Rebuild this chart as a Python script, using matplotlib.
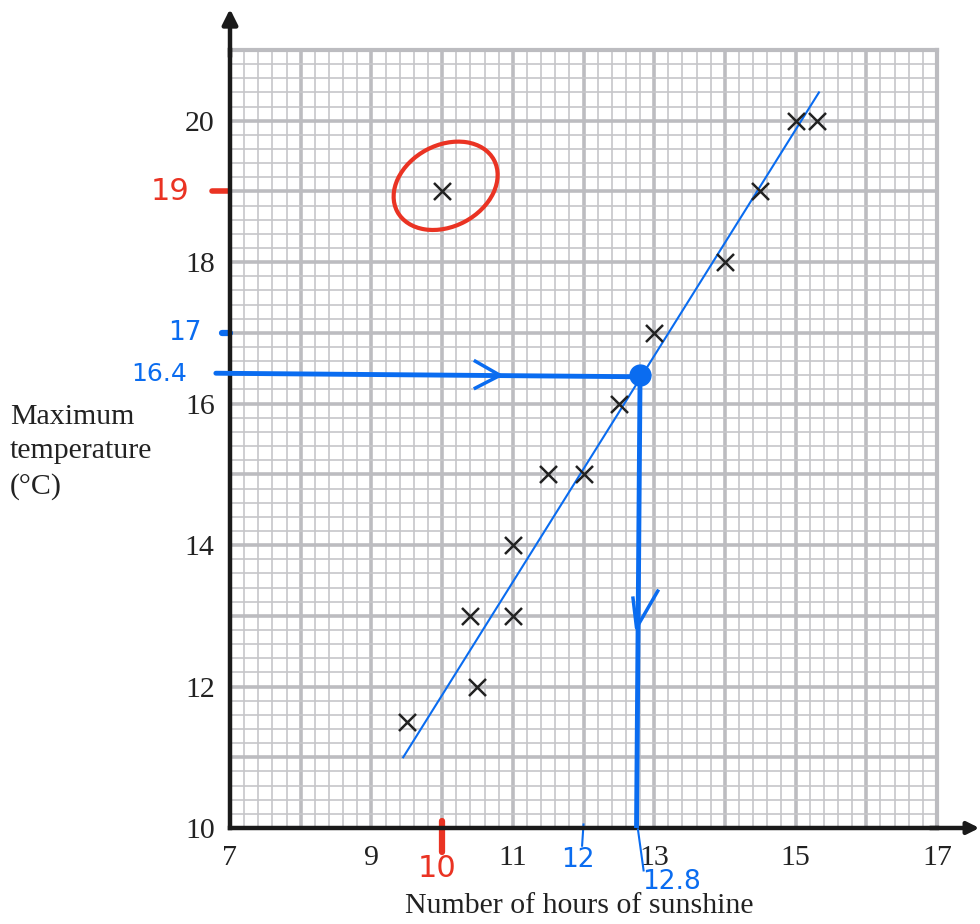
import matplotlib.pyplot as plt
from matplotlib.patches import Ellipse

# sunshine hours vs max temperature
hours = [9.5, 10.4, 10.5, 11, 11, 11.5, 12, 12.5, 13, 14, 14.5, 15, 15.3, 10]
temps = [11.5, 13, 12, 14, 13, 15, 15, 16, 17, 18, 19, 20, 20, 19]

# line of best fit end points
fit_x = [9.45, 15.33]
fit_y = [11.0, 20.4]

# hand annotations
outlier = (10, 19)
read_x = 12.8
read_y = 16.4

x_labels = [7, 9, 11, 13, 15, 17]
y_labels = [10, 12, 14, 16, 18, 20]

BLUE = '#0a6cf0'
RED = '#ea3323'
SERIF = ['Liberation Serif', 'DejaVu Serif']

fig = plt.figure(figsize=(9.8, 9.24), dpi=100)
ax = fig.add_axes([230 / 980, 1 - 828 / 924, 707 / 980, 778 / 924])
ax.set_xlim(7, 17)
ax.set_ylim(10, 21)

# graph paper
ax.set_xticks([v / 5 for v in range(35, 86)], minor=True)
ax.set_yticks([v / 5 for v in range(50, 106)], minor=True)
ax.set_xticks(range(7, 18))
ax.set_yticks(range(10, 22))
ax.set_xticklabels([str(v) if v in x_labels else '' for v in range(7, 18)])
ax.set_yticklabels([str(v) if v in y_labels else '' for v in range(10, 22)])
ax.grid(which='minor', color='#c6c6c9', lw=1.2, zorder=0)
ax.grid(which='major', color='#bcbcc0', lw=2.6, zorder=0)
ax.set_axisbelow(True)
ax.tick_params(which='both', length=0)
ax.tick_params(axis='x', pad=12, labelsize=21.5)
ax.tick_params(axis='y', pad=11, labelsize=21.5)
for lab in ax.get_xticklabels() + ax.get_yticklabels():
    lab.set_family(SERIF)
    lab.set_color('#222222')
for s in ('top', 'right'):
    ax.spines[s].set_color('#bcbcc0')
    ax.spines[s].set_linewidth(3)
for s in ('left', 'bottom'):
    ax.spines[s].set_color('#1a1a1a')
    ax.spines[s].set_linewidth(3.2)
    ax.spines[s].set_zorder(3)

# axis arrows
ax.annotate('', xy=(7, 21.58), xytext=(7, 20.9), annotation_clip=False,
            arrowprops=dict(arrowstyle='-|>,head_width=0.45,head_length=0.9',
                            color='#1a1a1a', lw=3.2, shrinkA=0, shrinkB=0))
ax.annotate('', xy=(17.6, 10), xytext=(16.9, 10), annotation_clip=False,
            arrowprops=dict(arrowstyle='-|>,head_width=0.35,head_length=0.7',
                            color='#1a1a1a', lw=3.2, shrinkA=0, shrinkB=0))

fig.text(10 / 980, 1 - 452 / 924, 'Maximum\ntemperature\n(°C)', family=SERIF,
         fontsize=21.5, color='#222222', va='center', ha='left', linespacing=1.42)
fig.text(579 / 980, 1 - 906 / 924, 'Number of hours of sunshine', family=SERIF,
         fontsize=21.5, color='#222222', va='center', ha='center')

# data
ax.plot(fit_x, fit_y, color=BLUE, lw=1.5, zorder=4)
ax.scatter(hours, temps, marker='x', s=150, color='#222222', linewidths=1.8, zorder=5)

# red outlier marking
ax.add_patch(Ellipse((outlier[0] + 0.05, outlier[1] + 0.08), 1.55, 1.15, angle=28,
                     fill=False, ec=RED, lw=3, zorder=6))
ax.plot([6.75, 6.98], [outlier[1], outlier[1]], color=RED, lw=4, clip_on=False,
        solid_capstyle='round')
ax.text(6.15, outlier[1], '19', color=RED, fontsize=22, ha='center', va='center')
ax.plot([outlier[0], outlier[0]], [10.1, 9.66], color=RED, lw=4.5, clip_on=False,
        solid_capstyle='round')
ax.text(9.93, 9.43, '10', color=RED, fontsize=22, ha='center', va='center')

# blue reading lines
ax.plot([6.8, read_x], [read_y + 0.03, read_y - 0.02], color=BLUE, lw=3.5,
        clip_on=False, zorder=6, solid_capstyle='round')
ax.plot([read_x, read_x - 0.05], [read_y, 10], color=BLUE, lw=3.5, zorder=6)
ax.plot([read_x - 0.03, read_x + 0.05], [9.98, 9.4], color=BLUE, lw=1.5,
        clip_on=False, zorder=6)
ax.plot(read_x, read_y, 'o', color=BLUE, ms=15, zorder=7)
ax.plot([10.47, 10.82, 10.47], [read_y + 0.2, read_y, read_y - 0.18], color=BLUE,
        lw=2.5, zorder=6)
ax.plot([12.7, read_x - 0.05, 13.05], [13.25, 12.83, 13.35], color=BLUE,
        lw=2.5, zorder=6)
ax.plot([6.88, 7.0], [17, 17], color=BLUE, lw=4.5, clip_on=False,
        solid_capstyle='round')
ax.text(6.36, 17.0, '17', color=BLUE, fontsize=19, ha='center', va='center')
ax.text(6.0, read_y + 0.02, '16.4', color=BLUE, fontsize=18, ha='center', va='center')
ax.plot([12.0, 11.98], [10.05, 9.75], color=BLUE, lw=1.5, clip_on=False)
ax.text(11.92, 9.55, '12', color=BLUE, fontsize=19, ha='center', va='center')
ax.text(13.25, 9.24, '12.8', color=BLUE, fontsize=19, ha='center', va='center')

fig.savefig('out.png', dpi=100)
